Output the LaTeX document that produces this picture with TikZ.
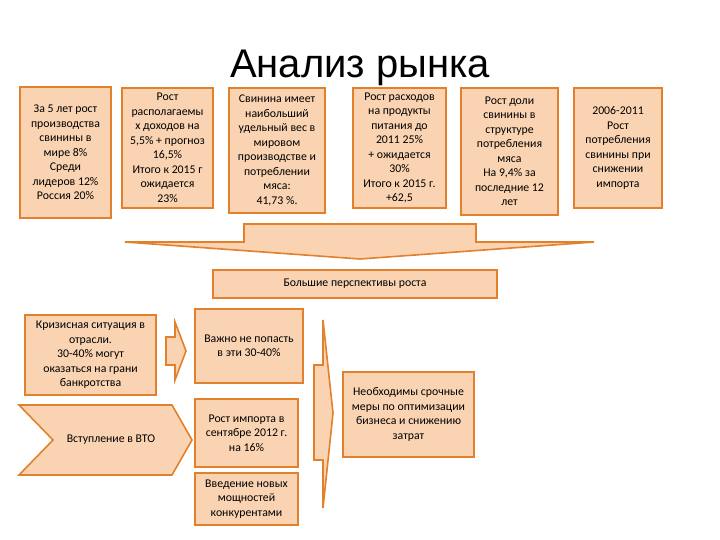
\documentclass[tikz,border=0pt]{standalone}
\usepackage{fontspec}
\setmainfont{Carlito}
\newfontfamily\titlefont{Liberation Sans}
\definecolor{peach}{RGB}{250,212,178}
\definecolor{rim}{RGB}{226,128,44}
\begin{document}
\begin{tikzpicture}[
			x=1pt, y=-1pt,
			fact/.style={rectangle, draw=rim, fill=peach, line width=1.6pt, align=center, inner sep=2pt,
				font=\fontsize{11.8}{14.5}\selectfont},
			blockarrow/.style={draw=rim, fill=peach, line width=1.6pt, line join=miter}
			]
			\useasboundingbox (0,0) rectangle (720,540);
			\node[font=\titlefont\fontsize{40}{44}\selectfont, anchor=base] (title) at (360,78) {Анализ рынка};
			
			\node[fact, minimum width=91, minimum height=131] (f1) at (65.5,152.5)
				{За 5 лет рост\\производства\\свинины в\\мире 8\%\\Среди\\лидеров 12\%\\Россия 20\%};
			\node[fact, minimum width=91, minimum height=120] (f2) at (167.5,148)
				{Рост\\располагаемы\\х доходов на\\5,5\% + прогноз\\16,5\%\\Итого к 2015 г\\ожидается\\23\%};
			\node[fact, minimum width=96, minimum height=125] (f3) at (277,150.5)
				{Свинина имеет\\наибольший\\удельный вес в\\мировом\\производстве и\\потреблении\\мяса:\\41,73 \%.};
			\node[fact, minimum width=93, minimum height=120] (f4) at (399.5,148)
				{Рост расходов\\на продукты\\питания до\\2011 25\%\\+ ожидается\\30\%\\Итого к 2015 г.\\+62,5};
			\node[fact, minimum width=97, minimum height=127] (f5) at (509.5,151.5)
				{Рост доли\\свинины в\\структуре\\потребления\\мяса\\На 9,4\% за\\последние 12\\лет};
			\node[fact, minimum width=88, minimum height=120] (f6) at (618,148)
				{2006-2011\\Рост\\потребления\\свинины при\\снижении\\импорта};
			
			\draw[blockarrow] (244,224) -- (476,224) -- (476,242) -- (594,242) -- (360,259)
				-- (125,242) -- (244,242) -- cycle;
			\node[fact, minimum width=284, minimum height=28] (growth) at (355,284) {Большие перспективы роста};
			
			\node[fact, minimum width=131, minimum height=80] (crisis) at (90.5,355)
				{Кризисная ситуация в\\отрасли.\\30-40\% могут\\оказаться на грани\\банкротства};
			\draw[blockarrow] (166,337) -- (175,337) -- (175,322) -- (186,351) -- (175,380)
				-- (175,365) -- (166,365) -- cycle;
			\node[fact, minimum width=108, minimum height=74] (avoid) at (249,346)
				{Важно не попасть\\в эти 30-40\%};
			
			\draw[blockarrow] (19,405) -- (172,405) -- (192,440) -- (172,475) -- (19,475)
				-- (53,440) -- cycle;
			\node[font=\fontsize{11.8}{14.5}\selectfont] (wto) at (111,440) {Вступление в ВТО};
			\node[fact, minimum width=103, minimum height=68] (import) at (246.5,433)
				{Рост импорта в\\сентябре 2012 г.\\на 16\%};
			\node[fact, minimum width=103, minimum height=52] (rivals) at (246.5,499)
				{Введение новых\\мощностей\\конкурентами};
			
			\draw[blockarrow] (314,365) -- (323,365) -- (323,320) -- (333,413) -- (323,508)
				-- (323,460) -- (314,460) -- cycle;
			\node[fact, minimum width=131, minimum height=85] (measures) at (408.5,414.5)
				{Необходимы срочные\\меры по оптимизации\\бизнеса и снижению\\затрат};
		\end{tikzpicture}
\end{document}
